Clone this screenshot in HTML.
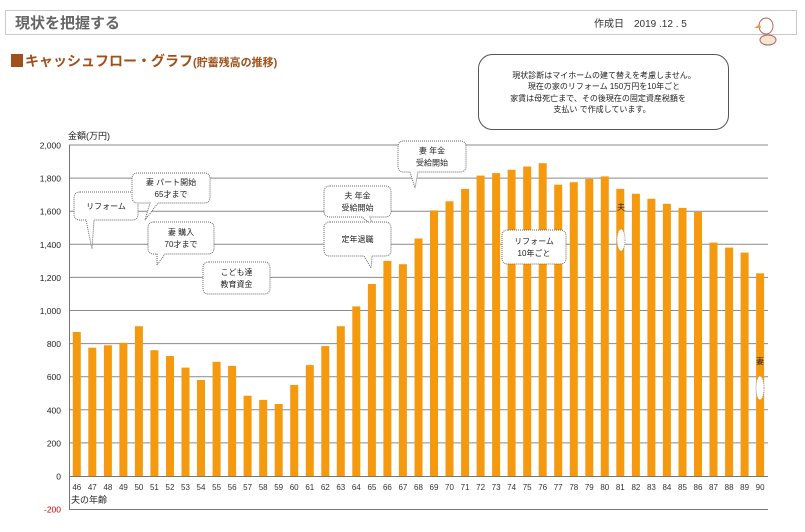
<!DOCTYPE html>
<html><head><meta charset="utf-8"><style>
body{margin:0;background:#fff;width:805px;height:527px;overflow:hidden;font-family:"Liberation Sans","Noto Sans CJK JP",sans-serif}
</style></head><body>
<svg id="s" width="805" height="527" xmlns="http://www.w3.org/2000/svg" font-family="Liberation Sans, Noto Sans CJK JP, sans-serif">
<rect x="5.5" y="10.5" width="791" height="24" fill="#fff" stroke="#c8c8c8"/>
<text x="15" y="28" font-size="15" font-weight="bold" fill="#666">現状を把握する</text>
<text x="594" y="27" font-size="10" fill="#333">作成日　2019 .12 . 5</text>
<g transform="translate(756,14)"><ellipse cx="10" cy="12" rx="7" ry="8" fill="#fff" stroke="#a66" stroke-width="1"/><path d="M4 10 L-2 14 L5 14Z" fill="#e8a040"/><ellipse cx="12" cy="26" rx="8" ry="5" fill="#f6e6d0" stroke="#a66"/></g>
<rect x="11" y="54" width="12" height="13" fill="#a0501a"/>
<text x="25" y="66" font-size="14" font-weight="bold" fill="#a0501a">キャッシュフロー・グラフ<tspan font-size="11">(貯蓄残高の推移)</tspan></text>
<rect x="478.5" y="54.5" width="250" height="75" rx="14" fill="#fff" stroke="#555"/>
<g font-size="8" fill="#222" text-anchor="middle"><text x="604" y="78">現状診断はマイホームの建て替えを考慮しません。</text><text x="604" y="89">現在の家のリフォーム 150万円を10年ごと</text><text x="598" y="101">家賃は母死亡まで、その後現在の固定資産税額を</text><text x="602" y="112">支払い で作成しています。</text></g>
<text x="68" y="139" font-size="9" fill="#222">金額(万円)</text>
<g id="grid"></g><g id="bars"></g><g id="lab"></g>
</svg>
<script>
var v=[870,775,790,805,905,760,725,655,580,690,665,485,460,435,550,670,785,905,1025,1160,1300,1280,1435,1605,1660,1735,1815,1830,1850,1870,1890,1760,1775,1795,1810,1735,1705,1675,1645,1620,1595,1410,1380,1350,1225];
var s=document.getElementById('s'),ns="http://www.w3.org/2000/svg",h='';
function y(a){return 476-a*0.1655;}
for(var t=-200;t<=2000;t+=200){var yy=y(t);
 if(t>0)h+='<line x1="69" x2="768" y1="'+yy+'" y2="'+yy+'" stroke="#8a8a8a" stroke-width="1"/>';
 h+='<text x="61" y="'+(yy+3.5)+'" font-size="8.5" text-anchor="end" fill="'+(t<0?'#c00':'#222')+'">'+(t<0?'-200':t.toLocaleString('en-US'))+'</text>';}
h+='<line x1="69.5" x2="69.5" y1="145" y2="476" stroke="#777"/>';
for(var i=0;i<45;i++){var x=69+15.53*i+3.8;h+='<rect x="'+x.toFixed(1)+'" y="'+y(v[i]).toFixed(1)+'" width="8" height="'+(v[i]*0.1655).toFixed(1)+'" fill="#f59a0e"/>';
 h+='<text x="'+(x+4).toFixed(1)+'" y="490" font-size="8" text-anchor="middle" fill="#333">'+(46+i)+'</text>';}
h+='<line x1="69" x2="768" y1="476.5" y2="476.5" stroke="#777"/>';
h+='<line x1="69.5" x2="69.5" y1="476" y2="509" stroke="#777"/><line x1="69" x2="768" y1="509.5" y2="509.5" stroke="#777"/>';
h+='<text x="71" y="503" font-size="9" fill="#222">夫の年齢</text>';
function cb(x,y0,w,hh,lines,tx,ty,ax){var p='<path d="M'+(x+6)+' '+y0+' H'+(x+w-6)+' Q'+(x+w)+' '+y0+' '+(x+w)+' '+(y0+6)+' V'+(y0+hh-6)+' Q'+(x+w)+' '+(y0+hh)+' '+(x+w-6)+' '+(y0+hh)+' H'+(ax+8)+' L'+tx+' '+ty+' L'+ax+' '+(y0+hh)+' H'+(x+6)+' Q'+x+' '+(y0+hh)+' '+x+' '+(y0+hh-6)+' V'+(y0+6)+' Q'+x+' '+y0+' '+(x+6)+' '+y0+'Z" fill="#fff" stroke="#666" stroke-dasharray="1,1"/>';
 for(var k=0;k<lines.length;k++)p+='<text x="'+(x+w/2)+'" y="'+(y0+hh/2+3+(k-(lines.length-1)/2)*12)+'" font-size="8" text-anchor="middle" fill="#222">'+lines[k]+'</text>';return p;}
h+=cb(74,192,64,28,['リフォーム'],92,249,86);
h+=cb(132,173,78,30,['妻 パート開始','65才まで'],145,220,150);
h+=cb(148,222,66,32,['妻 購入','70才まで'],157,265,157);
h+=cb(203,262,67,32,['こども達','教育資金'],230,294,222);
h+=cb(324,186,67,31,['夫 年金','受給開始'],373,226,362);
h+=cb(324,222,67,34,['定年退職'],371,268,364);
h+=cb(398,141,68,31,['妻 年金','受給開始'],415,188,410);
h+=cb(502,230,64,34,['リフォーム','10年ごと'],534,264,530);
h+='<text x="621" y="210" font-size="8" text-anchor="middle" fill="#222">夫</text><ellipse cx="621" cy="240" rx="4" ry="11" fill="#fff" stroke="#999" stroke-dasharray="1,1"/>';
h+='<text x="760" y="364" font-size="8" text-anchor="middle" fill="#222">妻</text><ellipse cx="760" cy="388" rx="4" ry="12" fill="#fff" stroke="#999" stroke-dasharray="1,1"/>';
s.insertAdjacentHTML('beforeend',h);
</script>
</body></html>
